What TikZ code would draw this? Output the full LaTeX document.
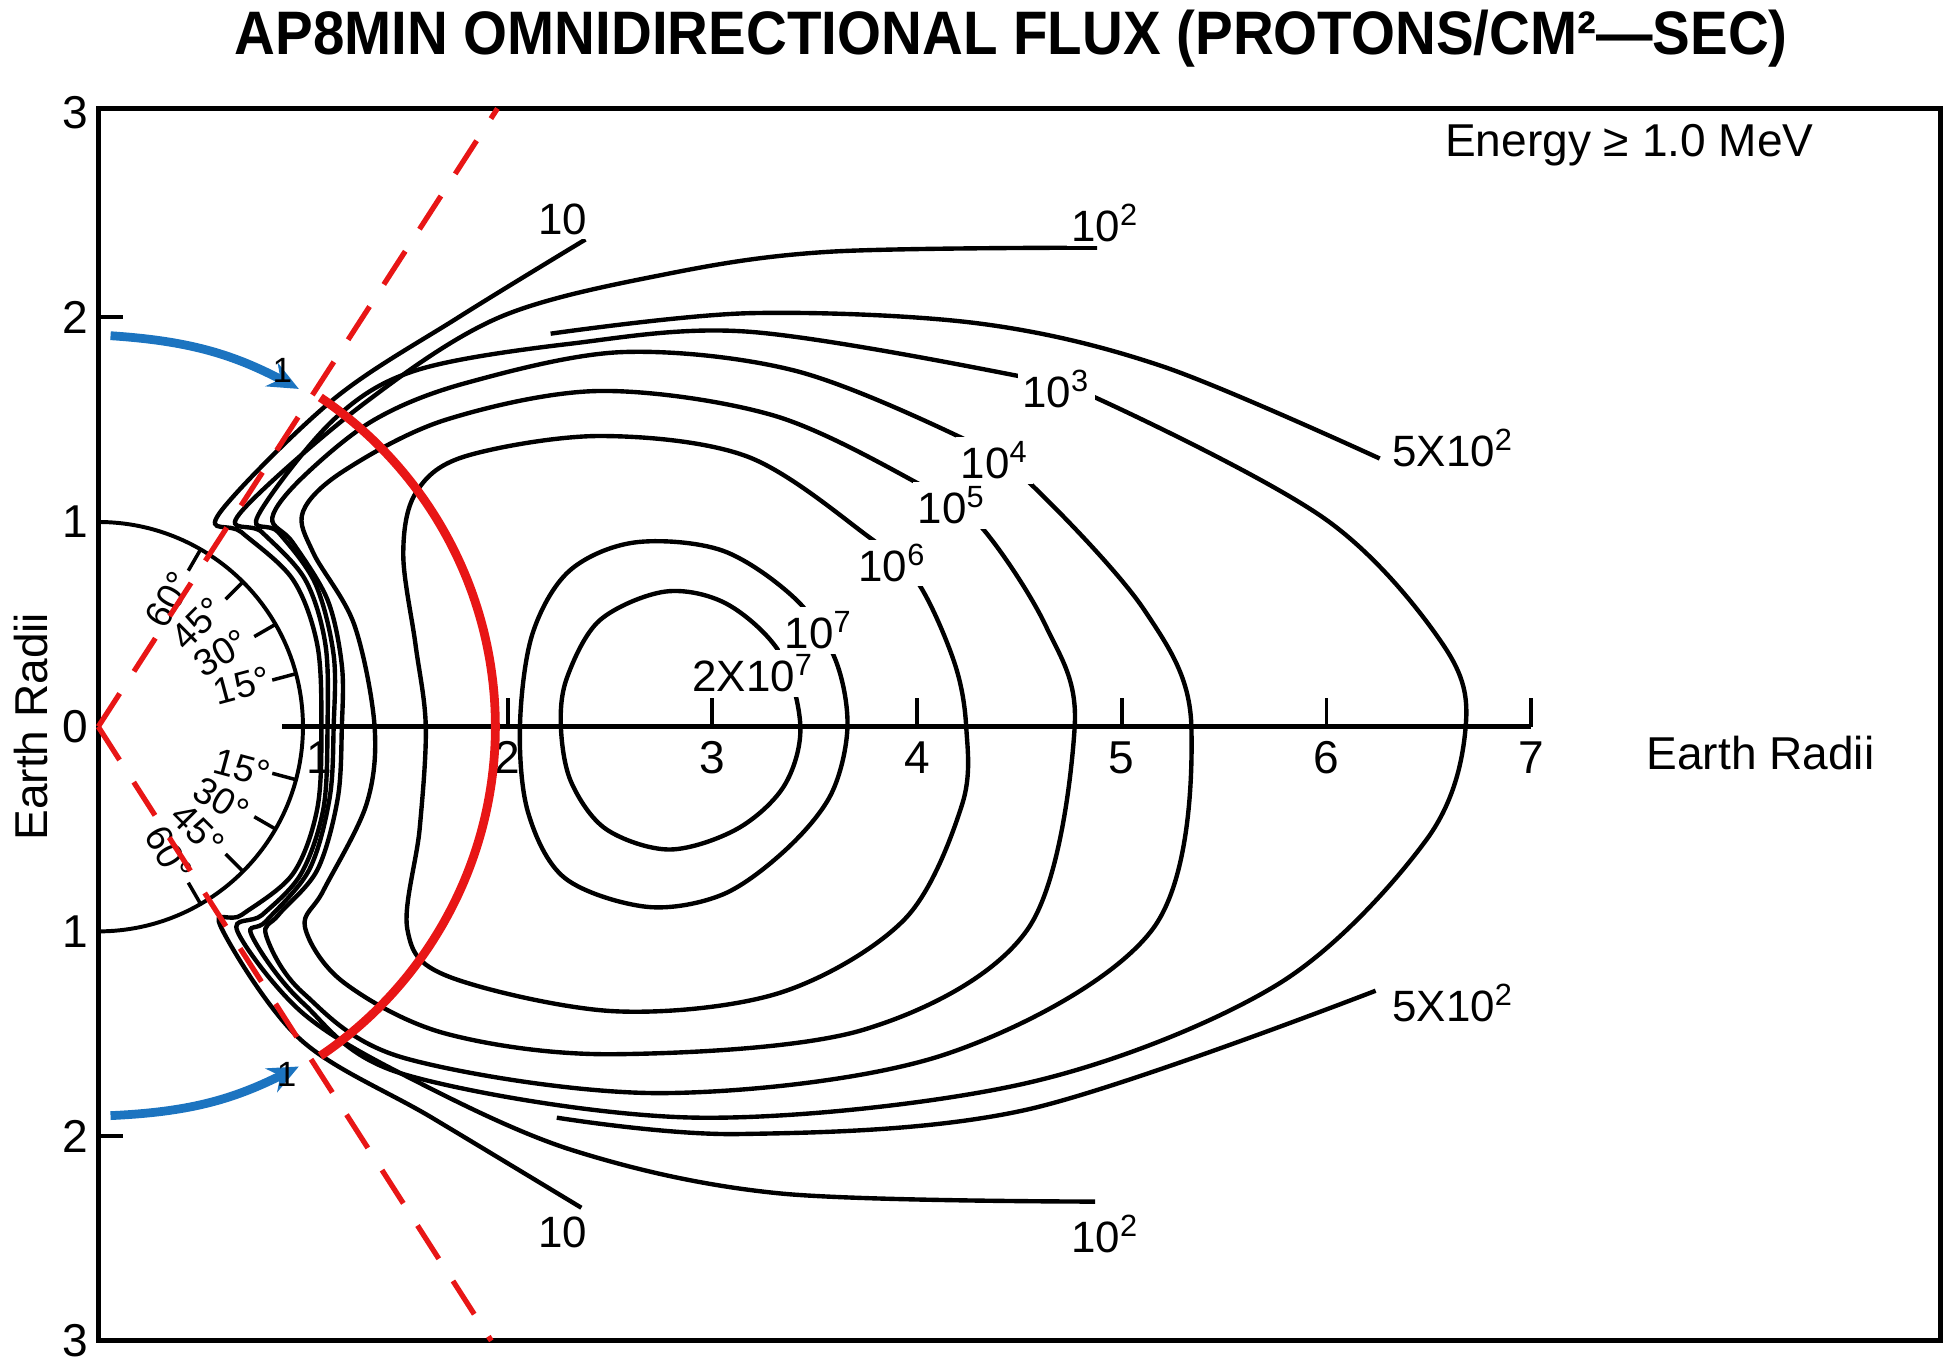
\documentclass[tikz,border=0pt]{standalone}
\usepackage{fontspec}
\setmainfont{Liberation Sans}
\usetikzlibrary{arrows.meta,positioning}
\definecolor{beltred}{RGB}{232,22,22}
\definecolor{beltblue}{RGB}{28,116,192}
\tikzset{
	contour/.style={
		line width=1pt,
		smooth,
		tension=0.55
	},
	tag/.style={
		fill=white,
		inner sep=1pt,
		font=\fontsize{10}{11}\selectfont
	},
	deg/.style={
		inner sep=0pt,
		font=\fontsize{8.5}{9}\selectfont
	},
	axlabel/.style={
		inner sep=1pt,
		font=\fontsize{10.5}{12}\selectfont
	},
	cut/.style={
		beltred,
		line width=1.2pt,
		dash pattern=on 9pt off 6pt
	}
}

\begin{document}
\begin{tikzpicture}[x=1.64cm,y=1.64cm,>={Stealth[length=7pt,width=6pt]}]
	\useasboundingbox (-0.48,-3.15) rectangle (9.09,3.55);
	\node [font=\bfseries\fontsize{14}{16}\selectfont,xscale=0.92] (title) at (4.46,3.36) {AP8MIN OMNIDIRECTIONAL FLUX (PROTONS/CM²—SEC)};
	\draw [line width=1.2pt] (0,-3) rectangle (9,3.02);
	% left scale
	\foreach \y/\t in {3/3,2/2,1/1,0/0,-1/1,-2/2,-3/3}
		\node [axlabel] (yl\y) at (-0.11,\y) {\t};
	\foreach \y in {2,-2}
		\draw [line width=0.9pt] (0,\y) -- (0.12,\y);
	\node [axlabel,rotate=90] (ylabel) at (-0.33,0) {Earth Radii};
	% equator axis
	\draw [line width=1.2pt] (0.9,0) -- (7,0);
	\foreach \x in {2,...,7} {
		\draw [line width=0.9pt] (\x,0) -- (\x,0.14);
		\node [axlabel] (xl\x) at (\x,-0.15) {\x};
	}
	\node [axlabel] (xl1) at (1.08,-0.15) {1};
	\node [axlabel] (xlabel) at (8.12,-0.13) {Earth Radii};
	% earth and latitudes
	\draw [line width=0.9pt] (0,1) arc[start angle=90,end angle=-90,radius=1];
	\foreach \a/\r in {15/0.73,30/0.7,45/0.7,60/0.71} {
		\draw [line width=0.8pt] (\a:0.88) -- (\a:1);
		\draw [line width=0.8pt] (-\a:0.88) -- (-\a:1);
		\node [deg,rotate=\a] (n\a) at (\a+1:\r) {\a°};
		\node [deg,rotate=-\a] (s\a) at (-\a-1:\r) {\a°};
	}
	% flux contours
	\draw [contour] plot coordinates {(2.38,2.38) (1.76,2.0) (1.15,1.6) (0.59,1.04) (0.7,0.95) (0.95,0.72) (1.07,0.4) (1.09,0) (1.07,-0.4) (0.95,-0.72) (0.7,-0.92) (0.6,-0.98) (0.99,-1.53) (1.63,-1.91) (2.36,-2.35)};
	\draw [contour] plot coordinates {(4.88,2.34) (3.57,2.32) (2.77,2.21) (1.96,2.0) (1.3,1.58) (0.69,1.04) (0.8,0.95) (1.01,0.72) (1.11,0.4) (1.12,0) (1.10,-0.4) (0.99,-0.72) (0.8,-0.92) (0.68,-1.0) (1.0,-1.4) (1.51,-1.71) (2.32,-2.07) (3.33,-2.28) (4.87,-2.32)};
	\draw [contour] plot coordinates {(2.21,1.92) (3.18,2.02) (4.3,1.97) (5.2,1.76) (6.26,1.31)};
	\draw [contour] plot coordinates {(2.24,-1.91) (3.13,-1.99) (4.54,-1.87) (6.24,-1.29)};
	\draw [contour] plot [smooth cycle] coordinates {(6.68,0) (6.57,0.4) (6.0,1.01) (4.91,1.59) (4.46,1.72) (3.17,1.93) (2.3,1.87) (1.55,1.74) (1.15,1.5) (0.78,1.03) (0.88,0.95) (1.06,0.7) (1.15,0.35) (1.15,0) (1.13,-0.35) (1.03,-0.7) (0.82,-0.95) (0.75,-1.02) (1.0,-1.35) (1.5,-1.7) (2.93,-1.91) (4.54,-1.74) (5.76,-1.26) (6.49,-0.55)};
	\draw [contour] plot [smooth cycle] coordinates {(5.34,0) (5.11,0.57) (4.54,1.2) (4.22,1.41) (3.4,1.74) (2.56,1.83) (1.8,1.68) (1.35,1.5) (1.0,1.22) (0.85,1.02) (0.95,0.9) (1.12,0.62) (1.19,0.3) (1.19,0) (1.17,-0.35) (1.07,-0.7) (0.88,-0.92) (0.82,-1.02) (1.0,-1.3) (1.5,-1.62) (2.76,-1.79) (4.14,-1.60) (5.15,-0.99)};
	\draw [contour] plot [smooth cycle] coordinates {(4.77,0) (4.63,0.49) (4.31,0.98) (4.02,1.18) (3.3,1.52) (2.45,1.64) (1.7,1.5) (1.2,1.25) (1.0,1.05) (1.05,0.85) (1.25,0.5) (1.35,0) (1.31,-0.38) (1.1,-0.8) (1.01,-0.98) (1.2,-1.25) (1.7,-1.5) (2.52,-1.60) (3.74,-1.48) (4.54,-0.99)};
	\draw [contour] plot [smooth cycle] coordinates {(4.24,0) (4.18,0.32) (4.0,0.71) (3.76,0.93) (3.17,1.32) (2.45,1.42) (1.79,1.32) (1.55,1.14) (1.49,0.84) (1.55,0.4) (1.6,0) (1.57,-0.5) (1.51,-0.99) (1.71,-1.22) (2.52,-1.39) (3.33,-1.30) (3.94,-0.94) (4.22,-0.38)};
	\draw [contour] plot [smooth cycle] coordinates {(3.66,0) (3.6,0.33) (3.41,0.62) (3.05,0.86) (2.62,0.90) (2.3,0.76) (2.12,0.45) (2.06,0) (2.1,-0.42) (2.28,-0.74) (2.68,-0.88) (3.05,-0.82) (3.36,-0.6) (3.58,-0.33)};
	\draw [contour] plot [smooth cycle] coordinates {(3.43,0) (3.33,0.36) (3.07,0.6) (2.77,0.66) (2.45,0.52) (2.29,0.24) (2.26,0) (2.31,-0.27) (2.48,-0.5) (2.79,-0.60) (3.12,-0.5) (3.35,-0.29)};
	% contour labels
	\node [tag] (f10a) at (2.27,2.48) {10};
	\node [tag] (f10b) at (2.27,-2.47) {10};
	\node [tag] (f100a) at (4.92,2.46) {10\textsuperscript{2}};
	\node [tag] (f100b) at (4.92,-2.48) {10\textsuperscript{2}};
	\node [tag] (f500a) at (6.62,1.36) {5X10\textsuperscript{2}};
	\node [tag] (f500b) at (6.62,-1.35) {5X10\textsuperscript{2}};
	\node [tag] (f1e3) at (4.68,1.65) {10\textsuperscript{3}};
	\node [tag] (f1e4) at (4.38,1.30) {10\textsuperscript{4}};
	\node [tag] (f1e5) at (4.17,1.08) {10\textsuperscript{5}};
	\node [tag] (f1e6) at (3.88,0.80) {10\textsuperscript{6}};
	\node [tag] (f1e7) at (3.52,0.47) {10\textsuperscript{7}};
	\node [tag] (f2e7) at (3.2,0.26) {2X10\textsuperscript{7}};
	\node [axlabel] (energy) at (7.48,2.84) {Energy ≥ 1.0 MeV};
	% overlay
	\coordinate (o) at (0,0);
	\coordinate (cutN) at (1.95,3.02);
	\coordinate (cutS) at (1.92,-3);
	\draw [cut] (o) -- (cutN);
	\draw [cut] (o) -- (cutS);
	\draw [beltred,line width=2pt] (56:1.94) arc[start angle=56,end angle=-56,radius=1.94];
	\coordinate (bN0) at (0.06,1.91);
	\coordinate (bN1) at (0.98,1.65);
	\coordinate (bS0) at (0.06,-1.90);
	\coordinate (bS1) at (0.98,-1.66);
	\draw [beltblue,line width=2pt,->] (bN0) to[bend left=12] (bN1);
	\draw [beltblue,line width=2pt,->] (bS0) to[bend right=12] (bS1);
	\node [inner sep=0pt,font=\fontsize{8}{9}\selectfont] (mN) at (0.9,1.74) {1};
	\node [inner sep=0pt,font=\fontsize{8}{9}\selectfont] (mS) at (0.92,-1.70) {1};
\end{tikzpicture}
\end{document}
